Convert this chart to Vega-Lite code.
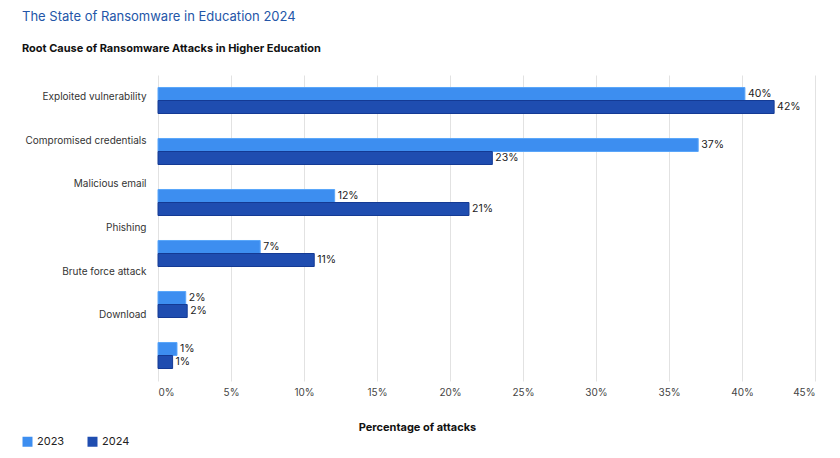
{
  "$schema": "https://vega.github.io/schema/vega-lite/v6.json",
  "width": 657,
  "height": 306,
  "padding": {"left": 22, "top": 11, "right": 5, "bottom": 5},
  "background": "white",
  "title": {
    "text": "The State of Ransomware in Education 2024",
    "subtitle": "Root Cause of Ransomware Attacks in Higher Education",
    "anchor": "start",
    "frame": "bounds",
    "font": "Inter",
    "fontSize": 13,
    "fontWeight": "normal",
    "color": "#2456a8",
    "subtitleFont": "Inter",
    "subtitleFontSize": 11,
    "subtitleFontWeight": "bold",
    "subtitleColor": "#111111",
    "subtitlePadding": 19,
    "offset": 21
  },
  "config": {
    "view": {"stroke": null},
    "font": "Inter"
  },
  "layer": [
    {
      "data": {
        "values": [
          {"label": "Exploited vulnerability"},
          {"label": "Compromised credentials"},
          {"label": "Malicious email"},
          {"label": "Phishing"},
          {"label": "Brute force attack"},
          {"label": "Download"}
        ]
      },
      "mark": {"type": "tick", "opacity": 0},
      "encoding": {
        "y": {
          "field": "label",
          "type": "nominal",
          "sort": null,
          "scale": {
            "domain": ["Exploited vulnerability", "Compromised credentials", "Malicious email", "Phishing", "Brute force attack", "Download", " "],
            "paddingInner": 0,
            "paddingOuter": 0
          },
          "axis": {
            "orient": "left",
            "title": null,
            "domain": false,
            "ticks": false,
            "labelPadding": 12,
            "labelFontSize": 10,
            "labelColor": "#333333",
            "labelFont": "Inter"
          }
        }
      }
    },
    {
      "data": {
        "values": [
          {"cause": "Exploited vulnerability", "year": "2023", "value": 0.402},
          {"cause": "Exploited vulnerability", "year": "2024", "value": 0.422},
          {"cause": "Compromised credentials", "year": "2023", "value": 0.370},
          {"cause": "Compromised credentials", "year": "2024", "value": 0.229},
          {"cause": "Malicious email", "year": "2023", "value": 0.121},
          {"cause": "Malicious email", "year": "2024", "value": 0.213},
          {"cause": "Phishing", "year": "2023", "value": 0.070},
          {"cause": "Phishing", "year": "2024", "value": 0.107},
          {"cause": "Brute force attack", "year": "2023", "value": 0.019},
          {"cause": "Brute force attack", "year": "2024", "value": 0.020},
          {"cause": "Download", "year": "2023", "value": 0.013},
          {"cause": "Download", "year": "2024", "value": 0.010}
        ]
      },
      "encoding": {
        "y": {
          "field": "cause",
          "type": "nominal",
          "sort": null,
          "scale": {"paddingInner": 0.49, "paddingOuter": 0.245},
          "axis": null
        },
        "yOffset": {
          "field": "year",
          "type": "nominal",
          "sort": ["2023", "2024"],
          "scale": {"paddingInner": 0, "paddingOuter": 0}
        },
        "x": {
          "field": "value",
          "type": "quantitative",
          "scale": {"domain": [0, 0.45], "nice": false},
          "axis": {
            "values": [0, 0.05, 0.1, 0.15, 0.2, 0.25, 0.3, 0.35, 0.4, 0.45],
            "format": ".0%",
            "title": "Percentage of attacks",
            "titleFont": "Inter",
            "titleFontSize": 11,
            "titleFontWeight": "bold",
            "titleColor": "#111111",
            "titlePadding": 24,
            "titleX": 259,
            "titleAnchor": "start",
            "titleAlign": "center",
            "domain": false,
            "ticks": false,
            "grid": true,
            "gridColor": "#e2e2e2",
            "gridWidth": 1,
            "labelPadding": 6,
            "labelFontSize": 10,
            "labelColor": "#444444",
            "labelFont": "Inter"
          }
        }
      },
      "layer": [
        {
          "mark": {"type": "bar", "strokeWidth": 1},
          "encoding": {
            "color": {
              "field": "year",
              "type": "nominal",
              "scale": {"domain": ["2023", "2024"], "range": ["#3d8ef0", "#1f4db0"]},
              "legend": {
                "title": null,
                "orient": "none",
                "direction": "horizontal",
                "legendX": -136,
                "legendY": 361,
                "symbolType": "square",
                "symbolSize": 100,
                "symbolStrokeWidth": 0,
                "labelFontSize": 11,
                "labelColor": "#222222",
                "labelFont": "Inter",
                "columnPadding": 22
              }
            },
            "stroke": {
              "field": "year",
              "type": "nominal",
              "scale": {"domain": ["2023", "2024"], "range": ["#5aa6fa", "#143a94"]},
              "legend": null
            }
          }
        },
        {
          "mark": {"type": "text", "align": "left", "baseline": "middle", "dx": 3, "fontSize": 10.5, "color": "#222222", "font": "Inter"},
          "encoding": {
            "text": {"field": "value", "type": "quantitative", "format": ".0%"}
          }
        }
      ]
    }
  ],
  "resolve": {"scale": {"y": "independent"}}
}
